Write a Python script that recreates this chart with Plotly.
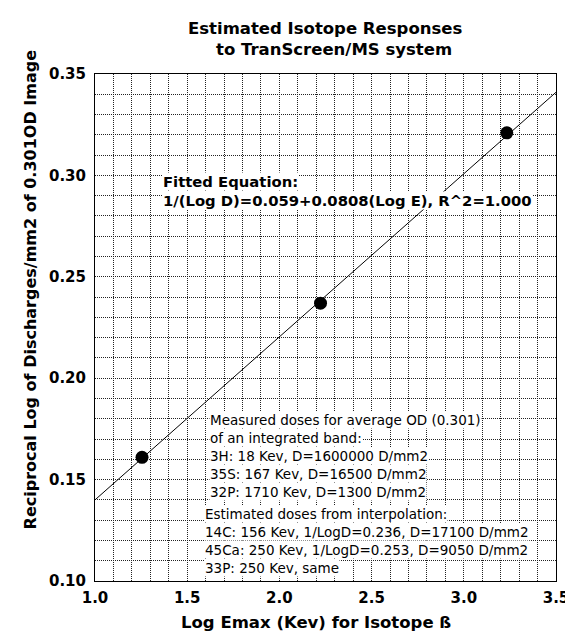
import plotly.graph_objects as go

# ---------------- data ----------------
log_emax = [1.255, 2.223, 3.233]          # Log Emax (Kev) for 3H, 35S, 32P
recip_log_d = [0.161, 0.237, 0.321]       # 1/(Log D)
fit_x = [1.0, 3.5]                        # fitted line, ends
fit_y = [0.140, 0.341]
x_ticks = [1.0, 1.5, 2.0, 2.5, 3.0, 3.5]
y_ticks = [0.10, 0.15, 0.20, 0.25, 0.30, 0.35]

title_lines = ["Estimated Isotope Responses", "to TranScreen/MS system"]
x_title = "Log Emax (Kev) for Isotope ß"
y_title = "Reciprocal Log of Discharges/mm2 of 0.301OD Image"
equation_lines = ["Fitted Equation:", "1/(Log D)=0.059+0.0808(Log E), R^2=1.000"]
measured_lines = [
    "Measured doses for average OD (0.301)",
    "of an integrated band:",
    "3H: 18 Kev, D=1600000 D/mm2",
    "35S: 167 Kev, D=16500 D/mm2",
    "32P: 1710 Kev, D=1300 D/mm2",
]
estimated_lines = [
    "Estimated doses from interpolation:",
    "14C: 156 Kev, 1/LogD=0.236, D=17100 D/mm2",
    "45Ca: 250 Kev, 1/LogD=0.253, D=9050 D/mm2",
    "33P: 250 Kev, same",
]

# ---------------- layout geometry ----------------
W, H = 573, 631
L, R, T, B = 87, 15, 66, 58
PW, PH = W - L - R, H - T - B


def xp(px):
    return (px - L) / PW


def yp(py):
    return (H - B - py) / PH


BOLD = dict(family="DejaVu Sans", color="black", weight="bold")
PLAIN = dict(family="DejaVu Sans", color="black", size=13.5)

fig = go.Figure()
fig.add_trace(go.Scatter(x=fit_x, y=fit_y, mode="lines",
                         line=dict(color="black", width=1), hoverinfo="skip"))
fig.add_trace(go.Scatter(x=log_emax, y=recip_log_d, mode="markers",
                         marker=dict(color="black", size=13)))

grid = dict(showgrid=True, gridcolor="#222", gridwidth=1, griddash="1px,1px")

fig.update_xaxes(range=[1.0, 3.5], tickvals=x_ticks, tickformat=".1f",
                 showline=True, mirror=True, linecolor="black", linewidth=1,
                 zeroline=False, ticks="", ticklabelstandoff=3,
                 tickfont=dict(BOLD, size=15),
                 minor=dict(dtick=0.1, **grid), **grid)
fig.update_yaxes(range=[0.10, 0.35], tickvals=y_ticks, tickformat=".2f",
                 showline=True, mirror=True, linecolor="black", linewidth=1,
                 zeroline=False, ticks="", ticklabelstandoff=5,
                 tickfont=dict(BOLD, size=15),
                 minor=dict(dtick=0.01, **grid), **grid)

ann = []
# title
for text, px, py in zip(title_lines, [322, 331], [21, 42]):
    ann.append(dict(text=text, x=xp(px), y=yp(py), xanchor="center", yanchor="middle",
                    font=dict(BOLD, size=16.5)))
# axis titles
ann.append(dict(text=x_title, x=xp(313), y=yp(614), xanchor="center", yanchor="middle",
                font=dict(BOLD, size=16.5)))
ann.append(dict(text=y_title, x=xp(21), y=yp(523), xanchor="center", yanchor="bottom",
                textangle=-90, font=dict(BOLD, size=16)))
# equation
for text, py in zip(equation_lines, [173, 193]):
    ann.append(dict(text=text, x=xp(155), y=yp(py), xanchor="left", yanchor="middle",
                    font=dict(BOLD, size=14.8), bgcolor="white", borderpad=0))
# measured / estimated notes
for text, py in zip(measured_lines, [412, 430, 448, 466, 484]):
    ann.append(dict(text=text, x=xp(203), y=yp(py), xanchor="left", yanchor="middle",
                    font=PLAIN, bgcolor="white", borderpad=0))
for text, py in zip(estimated_lines, [506, 524, 542, 560]):
    ann.append(dict(text=text, x=xp(198), y=yp(py), xanchor="left", yanchor="middle",
                    font=PLAIN, bgcolor="white", borderpad=0))
for a in ann:
    a.update(xref="paper", yref="paper", showarrow=False)

fig.update_layout(width=W, height=H, margin=dict(l=L, r=R, t=T, b=B),
                  paper_bgcolor="white", plot_bgcolor="white",
                  showlegend=False, annotations=ann)

fig.write_html("out.html")
